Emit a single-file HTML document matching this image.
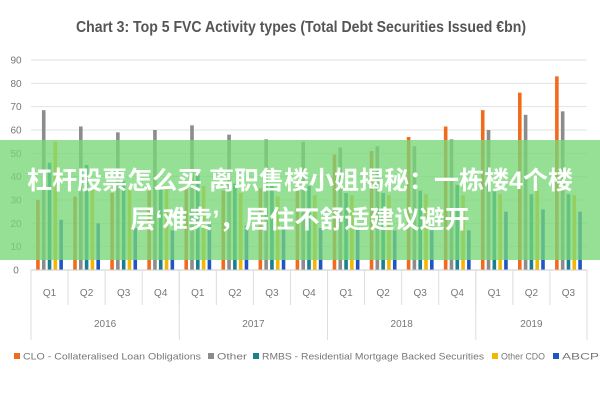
<!DOCTYPE html>
<html><head><meta charset="utf-8"><style>
body{margin:0;background:#fff;}
#wrap{position:relative;width:600px;height:400px;overflow:hidden;font-family:"Liberation Sans","Noto Sans CJK SC",sans-serif;}
#banner{position:absolute;left:0;top:140px;width:600px;height:120px;background:rgba(120,215,120,0.78);color:#fff;font-weight:bold;font-size:25px;line-height:39px;text-align:center;padding-top:22px;box-sizing:border-box;font-family:"Liberation Sans","Noto Sans CJK SC",sans-serif;}
</style></head><body>
<div id="wrap">
<svg id="svg" width="600" height="400"></svg>
<div id="banner">杠杆股票怎么买 离职售楼小姐揭秘：一栋楼4个楼<br>层‘难卖’，居住不舒适建议避开</div>
</div>
<script>
const quarters=["Q1","Q2","Q3","Q4","Q1","Q2","Q3","Q4","Q1","Q2","Q3","Q4","Q1","Q2","Q3"];
const years=["2016","2017","2018","2019"];
const yearSpans=[4,4,4,3];
const yTicks=[0,10,20,30,40,50,60,70,80,90];
const seriesNames=["CLO - Collateralised Loan Obligations","Other","RMBS - Residential Mortgage Backed Securities","Other CDO","ABCP"];
const colors=["#f26b1d","#8c8c8c","#1a7f8e","#f2b705","#2255c4"];
const clo=[30,31.5,33,34,36,34,35,36,49.5,51,57,61.5,68.5,76,83];
const other=[68.5,61.5,59,60,62,58,56,55,52.5,53,53,56,60,66.5,68];
const rmbs=[46,45,38,36,41,37,36,36,33,33,34,36.5,34,32.5,32.5];
const otherCdo=[55,35,35,35,36,33,31.5,32,32,32,32.5,32,32.5,34,32];
const abcp=[21.5,20,18,17,20,19,19,18,18.5,17,17,17,25,26,25];
const series=[clo,other,rmbs,otherCdo,abcp];

const svg=document.getElementById('svg');
const NS="http://www.w3.org/2000/svg";
const L=31,R=587,T=60,B=270,YMAX=90;
const cw=(R-L)/quarters.length;
function y(v){return B-(v/YMAX)*(B-T);}
function x(i){return L+i*cw;}
function mk(tag,attrs,name,txt){const e=document.createElementNS(NS,tag);for(const k in attrs)e.setAttribute(k,attrs[k]);


if(txt!==undefined)e.textContent=txt;svg.appendChild(e);return e;}
mk('text',{x:301,y:32,'text-anchor':'middle','font-size':16,'font-weight':'bold',fill:'#555',textLength:450,lengthAdjust:'spacingAndGlyphs'},'chart-title',"Chart 3: Top 5 FVC Activity types (Total Debt Securities Issued €bn)");
yTicks.forEach(v=>{
 mk('line',{x1:L,x2:R,y1:y(v),y2:y(v),stroke:'#e2e2e2','stroke-width':1},'gridline');
 mk('text',{x:16,y:y(v)+3.5,'text-anchor':'middle','font-size':10,fill:'#777'},'y-tick-label',String(v));
});
const bw=3.6,step=5.8;
series.forEach((s,si)=>{
 s.forEach((v,i)=>{
  const cx=x(i)+cw/2+(si-2)*step;
  mk('rect',{x:cx-bw/2,y:y(v),width:bw,height:B-y(v),fill:colors[si]},'bar-'+si+'-'+i);
 });
});
mk('line',{x1:L,x2:R,y1:B,y2:B,stroke:'#ccc'},'x-axis');
quarters.forEach((q,i)=>{
 mk('line',{x1:x(i),x2:x(i),y1:B,y2:305,stroke:'#ddd'},'quarter-separator');
 mk('text',{x:x(i)+cw/2,y:296,'text-anchor':'middle','font-size':10,fill:'#777'},'x-tick-label',q);
});
let acc=0;
years.forEach((yr,k)=>{
 mk('line',{x1:x(acc),x2:x(acc),y1:B,y2:340,stroke:'#ddd'},'year-separator');
 mk('text',{x:x(acc+yearSpans[k]/2),y:327,'text-anchor':'middle','font-size':10,fill:'#777'},'year-label',yr);
 acc+=yearSpans[k];
});
mk('line',{x1:R,x2:R,y1:B,y2:340,stroke:'#ddd'},'year-separator');
const legX=[14,208,253,492,553];
const legW=[178,30,222,44,37];
seriesNames.forEach((n,i)=>{
 mk('rect',{x:legX[i],y:353,width:6,height:6,fill:colors[i]},'legend-swatch');
 mk('text',{x:legX[i]+9,y:359.5,'font-size':9.5,fill:'#777',textLength:legW[i],lengthAdjust:'spacingAndGlyphs'},'legend-entry',n);
});
</script>
</body></html>
